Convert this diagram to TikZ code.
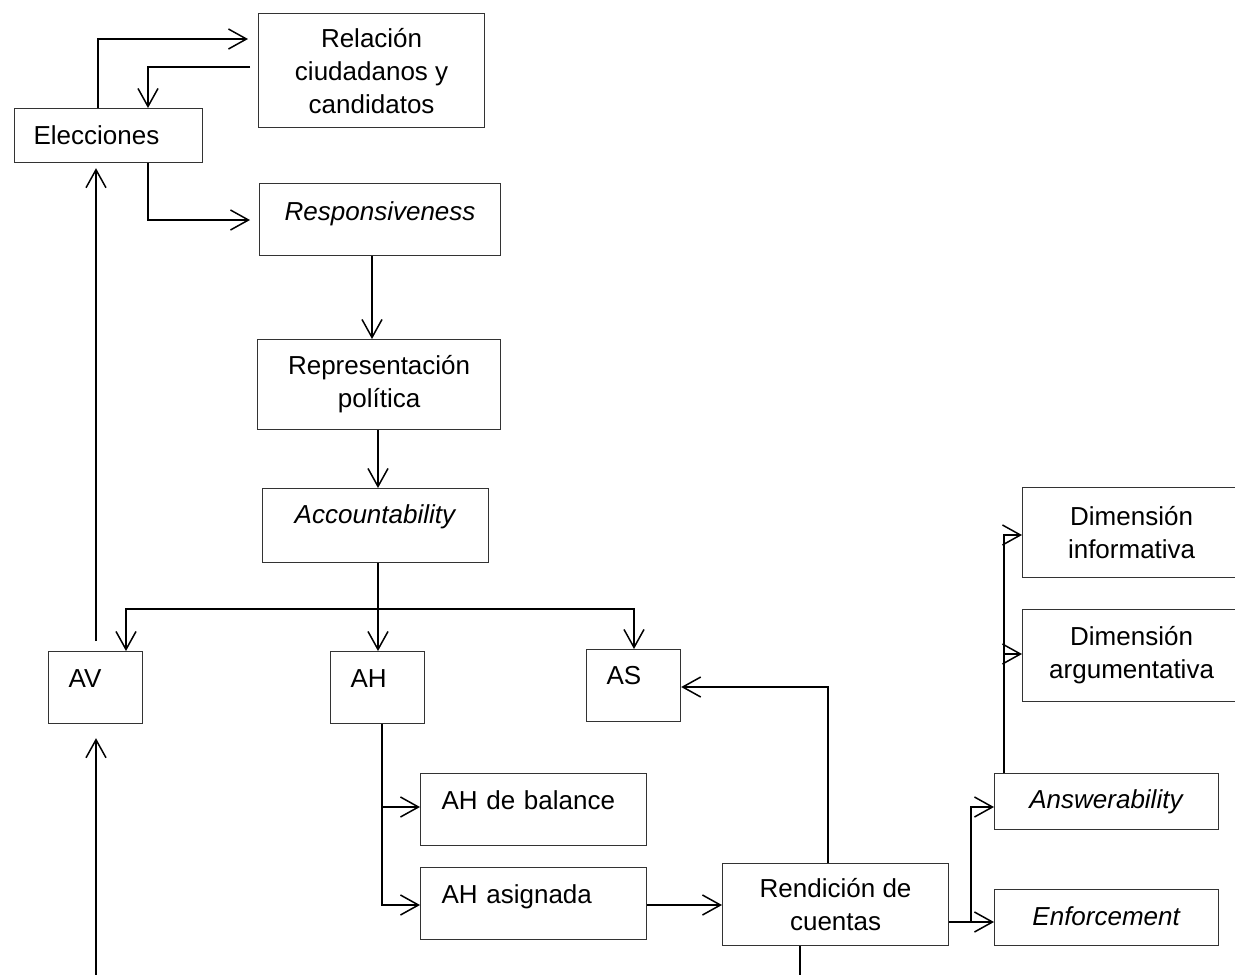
\documentclass[tikz,border=0pt]{standalone}
\usepackage{fontspec}
\setmainfont{Liberation Sans}
\usetikzlibrary{arrows.meta}
\tikzset{
  caja/.style={draw=black!80,line width=1.2pt,anchor=north west,inner sep=0pt,font=\fontsize{26}{33}\selectfont},
  cajaizq/.style={caja,align=left,text width=#1},
  cajacen/.style={caja,align=center,text width=#1},
}
\begin{document}
\begin{tikzpicture}[>={Straight Barb[length=18pt,width=20pt]},x=1pt,y=-1pt,line width=1.5pt]
  \useasboundingbox (0,0) rectangle (1235,975);
  \clip (0,0) rectangle (1235,975);
  % cajas
  \node[caja,minimum width=226pt,minimum height=114pt,align=center] (rel) at (258,13) {Relación\\ciudadanos y\\candidatos};
  \node[cajaizq=150pt,inner xsep=19pt,text height=36pt,text depth=18pt] (elec) at (14,108) {Elecciones};
  \node[cajacen=241pt,text height=37pt,text depth=35pt] (resp) at (259,183) {\textit{Responsiveness}};
  \node[caja,minimum width=243pt,minimum height=90pt,align=center] (repr) at (257,339) {Representación\\política};
  \node[cajacen=226pt,text height=35pt,text depth=39pt] (acc) at (262,488) {\textit{Accountability}};
  \node[cajaizq=54pt,inner xsep=20pt,text height=36pt,text depth=36pt] (av) at (48,651) {AV};
  \node[cajaizq=54pt,inner xsep=20pt,text height=36pt,text depth=36pt] (ah) at (330,651) {AH};
  \node[cajaizq=54pt,inner xsep=20pt,text height=35pt,text depth=37pt] (as) at (586,649) {AS};
  \node[cajaizq=184pt,inner xsep=21pt,text height=36pt,text depth=36pt] (ahb) at (420,773) {AH de balance};
  \node[cajaizq=184pt,inner xsep=21pt,text height=36pt,text depth=36pt] (aha) at (420,867) {AH asignada};
  \node[caja,minimum width=226pt,minimum height=82pt,align=center] (rend) at (722,863) {Rendición de\\cuentas};
  \node[cajacen=224pt,text height=35pt,text depth=21pt] (ans) at (994,773) {\textit{Answerability}};
  \node[cajacen=224pt,text height=36pt,text depth=20pt] (enf) at (994,889) {\textit{Enforcement}};
  \node[caja,minimum width=218pt,minimum height=90pt,align=center] (dinf) at (1022,487) {Dimensión\\informativa};
  \node[caja,minimum width=218pt,minimum height=92pt,align=center] (darg) at (1022,609) {Dimensión\\argumentativa};
  % flechas
  \coordinate (barra) at (378,609);
  \coordinate (pie) at (96,975);
  \coordinate (salida) at (800,975);
  \draw[->,shorten >=10pt] (elec.north -| 98,0) |- (rel.west |- 0,39);
  \draw[->,shorten <=8pt] (rel.west |- 0,67) -| (elec.north -| 148,0);
  \draw[->,shorten >=9pt] (elec.south -| 148,0) |- (resp.west |- 0,220);
  \draw[->] (resp.south -| 372,0) -- (repr.north -| 372,0);
  \draw[->] (repr.south -| 378,0) -- (acc.north -| 378,0);
  \draw[->] (acc.south -| 378,0) -- (ah.north -| 378,0);
  \draw[->] (barra) -| (av.north -| 126,0);
  \draw[->] (barra) -| (as.north -| 634,0);
  \draw[->,shorten <=10pt,shorten >=5pt] (av.north -| 96,0) -- (elec.south -| 96,0);
  \draw[->,shorten >=14pt] (pie) -- (av.south -| 96,0);
  \draw[->] (ah.south -| 382,0) |- (ahb.west |- 0,807);
  \draw[->] (ah.south -| 382,0) |- (aha.west |- 0,905);
  \draw[->] (aha.east |- 0,905) -- (rend.west |- 0,905);
  \draw[->] (rend.north -| 828,0) |- (as.east |- 0,687);
  \draw (rend.south -| 800,0) -- (salida);
  \draw[->] (rend.east |- 0,922) -- (enf.west |- 0,922);
  \draw[->] (rend.east |- 0,922) ++(22,0) |- (ans.west |- 0,807);
  \draw[->] (ans.north -| 1004,0) |- (dinf.west |- 0,535);
  \draw[->] (ans.north -| 1004,0) |- (darg.west |- 0,654);
\end{tikzpicture}
\end{document}
